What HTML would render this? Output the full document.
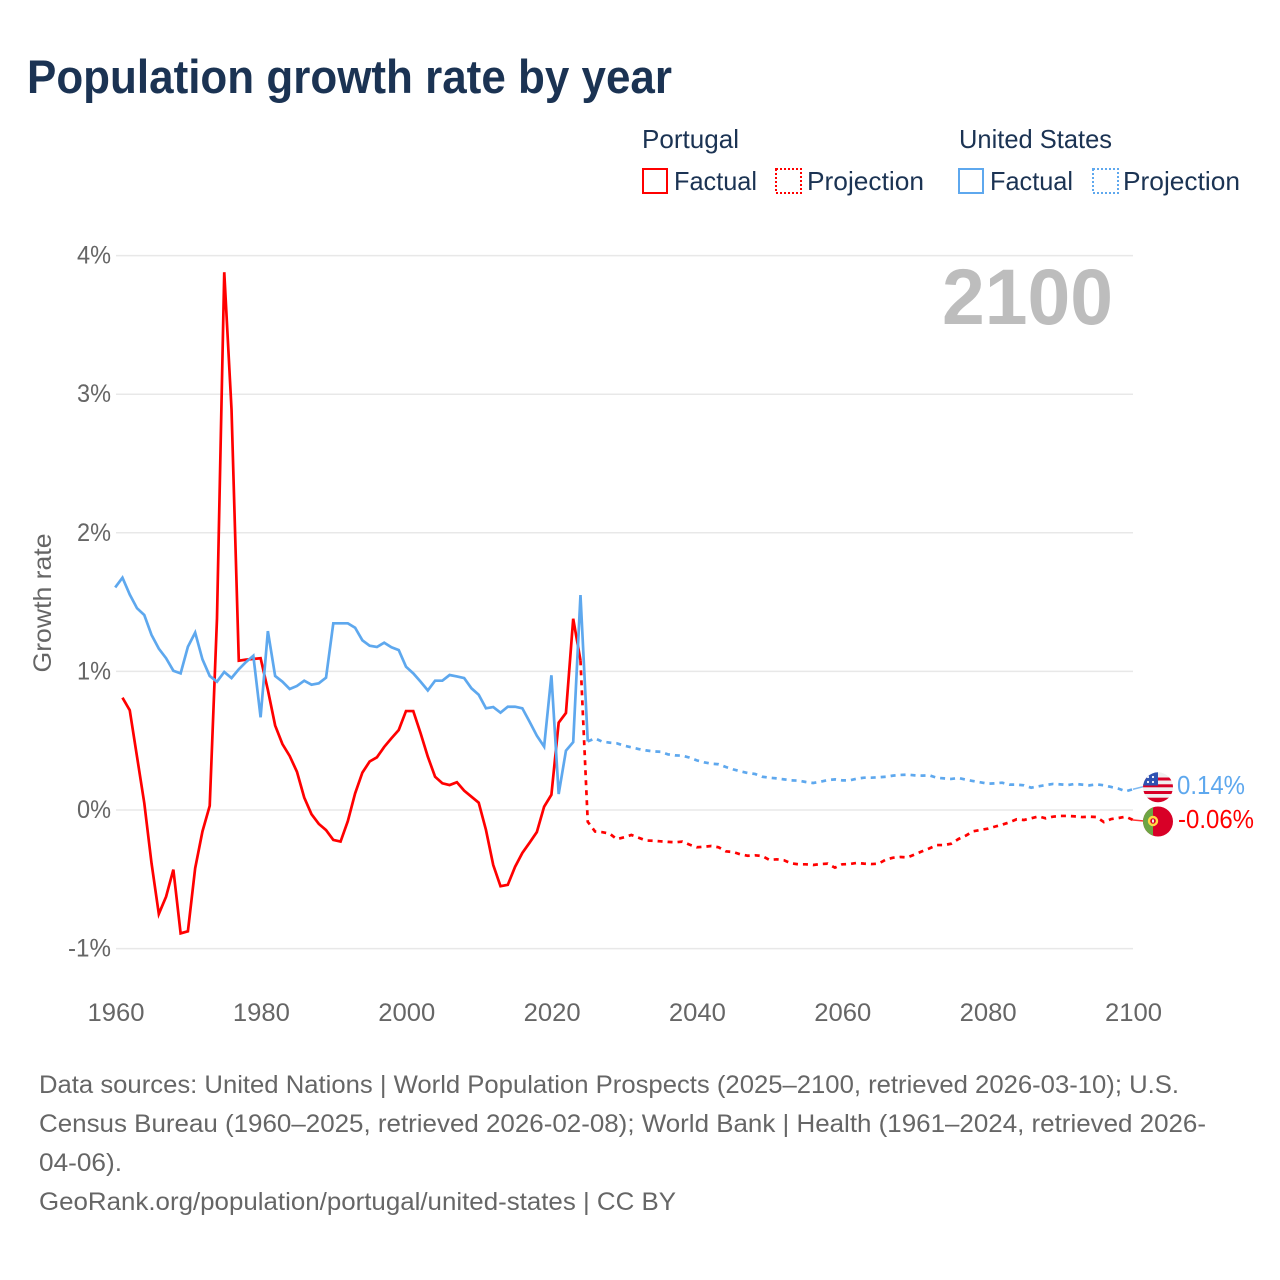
<!DOCTYPE html>
<html lang="en">
<head>
<meta charset="utf-8">
<title>Population growth rate by year</title>
<style>
html,body{margin:0;padding:0;background:#fff;}
#wrap{width:1280px;height:1280px;overflow:hidden;}
svg{display:block;}
text{font-family:"Liberation Sans",sans-serif;}
.legend-text{font-size:26px;fill:#1b3353;}
.foot{font-size:25px;fill:#666;}
.tick{font-size:25px;fill:#666;}
</style>
</head>
<body>
<div id="wrap">
<svg id="chart" width="1280" height="1280" viewBox="0 0 1280 1280" xmlns="http://www.w3.org/2000/svg">
  <text x="27" y="93" font-size="47" font-weight="700" fill="#1b3353" textLength="645" lengthAdjust="spacingAndGlyphs">Population growth rate by year</text>

  <g>
    <text class="legend-text" x="642" y="148" textLength="97" lengthAdjust="spacingAndGlyphs">Portugal</text>
    <rect x="643" y="169" width="24" height="24" fill="none" stroke="#ff0000" stroke-width="2"/>
    <text class="legend-text" x="674" y="190" textLength="83" lengthAdjust="spacingAndGlyphs">Factual</text>
    <rect x="776" y="169" width="25" height="24" fill="none" stroke="#ff0000" stroke-width="2" stroke-dasharray="2 2"/>
    <text class="legend-text" x="807" y="190" textLength="117" lengthAdjust="spacingAndGlyphs">Projection</text>

    <text class="legend-text" x="959" y="148" textLength="153" lengthAdjust="spacingAndGlyphs">United States</text>
    <rect x="959" y="169" width="24" height="24" fill="none" stroke="#5ea8ee" stroke-width="2"/>
    <text class="legend-text" x="990" y="190" textLength="83" lengthAdjust="spacingAndGlyphs">Factual</text>
    <rect x="1093" y="169" width="25" height="24" fill="none" stroke="#5ea8ee" stroke-width="2" stroke-dasharray="2 2"/>
    <text class="legend-text" x="1123" y="190" textLength="117" lengthAdjust="spacingAndGlyphs">Projection</text>
  </g>

  <g id="grid"></g>
  <g id="yticks"></g>
  <g id="xticks"></g>
  <text class="tick" transform="translate(51,603) rotate(-90)" text-anchor="middle" textLength="139" lengthAdjust="spacingAndGlyphs">Growth rate</text>

  <text x="942" y="324" font-size="79" font-weight="700" fill="#bdbdbd" textLength="171" lengthAdjust="spacingAndGlyphs">2100</text>

  <g id="series"></g>

  <defs>
    <clipPath id="usClip"><circle cx="1158" cy="787.3" r="15"/></clipPath>
    <clipPath id="ptClip"><circle cx="1158" cy="821.5" r="15"/></clipPath>
  </defs>

  <g clip-path="url(#usClip)">
    <rect x="1143" y="772" width="30" height="31" fill="#f0f0f0"/>
    <rect x="1143" y="777.5" width="30" height="3" fill="#d80027"/>
    <rect x="1143" y="784.3" width="30" height="3" fill="#d80027"/>
    <rect x="1143" y="791" width="30" height="3" fill="#d80027"/>
    <rect x="1143" y="797.7" width="30" height="5" fill="#d80027"/>
    <rect x="1143" y="772" width="15" height="13.5" fill="#2e52b2"/>
    <circle cx="1148" cy="782" r="1.1" fill="#fff"/>
    <circle cx="1153" cy="782" r="1.1" fill="#fff"/>
    <circle cx="1153" cy="777" r="1.1" fill="#fff"/>
    <circle cx="1148" cy="777" r="1.1" fill="#fff"/>
  </g>
  <g clip-path="url(#ptClip)">
    <rect x="1143" y="806" width="30" height="31" fill="#d80027"/>
    <rect x="1143" y="806" width="10" height="31" fill="#6da544"/>
    <circle cx="1153" cy="821" r="4" fill="#d80027" stroke="#ffda44" stroke-width="2.4"/>
    <rect x="1152" y="819.5" width="2" height="3" fill="#eee"/>
  </g>
  <text x="1177" y="794" font-size="26" fill="#5ea8ee" textLength="68" lengthAdjust="spacingAndGlyphs">0.14%</text>
  <text x="1178" y="828" font-size="26" fill="#ff0000" textLength="76" lengthAdjust="spacingAndGlyphs">-0.06%</text>

  <g>
    <text class="foot" x="39" y="1093" textLength="1140" lengthAdjust="spacingAndGlyphs">Data sources: United Nations | World Population Prospects (2025–2100, retrieved 2026-03-10); U.S.</text>
    <text class="foot" x="39" y="1132" textLength="1167" lengthAdjust="spacingAndGlyphs">Census Bureau (1960–2025, retrieved 2026-02-08); World Bank | Health (1961–2024, retrieved 2026-</text>
    <text class="foot" x="39" y="1171" textLength="83" lengthAdjust="spacingAndGlyphs">04-06).</text>
    <text class="foot" x="39" y="1210" textLength="637" lengthAdjust="spacingAndGlyphs">GeoRank.org/population/portugal/united-states | CC BY</text>
  </g>
</svg>
</div>
<script>
const yTickValues = [-1, 0, 1, 2, 3, 4];
const yTickLabels = ["-1%", "0%", "1%", "2%", "3%", "4%"];
const xTickYears = [1960, 1980, 2000, 2020, 2040, 2060, 2080, 2100];
const xTickLabels = ["1960", "1980", "2000", "2020", "2040", "2060", "2080", "2100"];

const portugalFactualStart = 1961;
const portugalFactual = [0.81,0.72,0.385,0.05,-0.385,-0.75,-0.625,-0.43,-0.89,-0.875,-0.42,-0.155,0.03,1.38,3.88,2.89,1.077,1.085,1.09,1.095,0.866,0.61,0.476,0.39,0.276,0.09,-0.03,-0.1,-0.145,-0.216,-0.228,-0.08,0.12,0.27,0.35,0.38,0.455,0.518,0.577,0.714,0.714,0.555,0.385,0.24,0.193,0.18,0.2,0.14,0.096,0.053,-0.144,-0.397,-0.55,-0.54,-0.41,-0.31,-0.236,-0.159,0.024,0.11,0.63,0.70,1.38,1.08];

const portugalProjectionStart = 2024;
const portugalProjection = [1.08,-0.085,-0.155,-0.16,-0.17,-0.21,-0.197,-0.18,-0.2,-0.22,-0.222,-0.226,-0.23,-0.233,-0.228,-0.25,-0.269,-0.265,-0.26,-0.269,-0.298,-0.303,-0.32,-0.33,-0.327,-0.332,-0.36,-0.356,-0.363,-0.385,-0.392,-0.392,-0.397,-0.39,-0.387,-0.416,-0.392,-0.39,-0.382,-0.387,-0.39,-0.387,-0.358,-0.344,-0.339,-0.342,-0.32,-0.298,-0.277,-0.253,-0.253,-0.243,-0.209,-0.185,-0.154,-0.144,-0.135,-0.12,-0.106,-0.089,-0.067,-0.072,-0.06,-0.046,-0.06,-0.048,-0.043,-0.043,-0.046,-0.051,-0.048,-0.051,-0.087,-0.065,-0.058,-0.048,-0.072];

const usFactualStart = 1960;
const usFactual = [1.606,1.676,1.555,1.456,1.407,1.263,1.164,1.095,1.005,0.986,1.178,1.28,1.087,0.967,0.926,0.996,0.952,1.015,1.068,1.113,0.669,1.291,0.967,0.926,0.873,0.895,0.933,0.904,0.914,0.955,1.347,1.347,1.347,1.315,1.224,1.185,1.176,1.207,1.174,1.154,1.034,0.986,0.926,0.863,0.933,0.933,0.974,0.964,0.952,0.878,0.832,0.734,0.743,0.702,0.745,0.745,0.734,0.637,0.536,0.457,0.972,0.115,0.428,0.49,1.551,0.495];

const usProjectionStart = 2025;
const usProjection = [0.495,0.517,0.493,0.486,0.481,0.464,0.452,0.44,0.43,0.423,0.42,0.402,0.394,0.392,0.378,0.358,0.344,0.334,0.33,0.31,0.293,0.279,0.267,0.26,0.24,0.233,0.228,0.221,0.214,0.212,0.202,0.195,0.204,0.216,0.221,0.214,0.214,0.226,0.233,0.233,0.236,0.24,0.248,0.253,0.255,0.25,0.248,0.25,0.233,0.228,0.224,0.231,0.219,0.209,0.2,0.19,0.192,0.197,0.183,0.183,0.178,0.161,0.171,0.18,0.188,0.185,0.18,0.188,0.183,0.178,0.185,0.178,0.166,0.154,0.135,0.15];

const SVGNS = "http://www.w3.org/2000/svg";
const xOf = function (year) { return 115.2 + (year - 1960) * 7.27; };
const yOf = function (v) { return 810 - v * 138.6; };
const xTickPos = function (year) { return 116 + (year - 1960) * 7.268; };

const pathFrom = function (startYear, values) {
  let d = "";
  for (let i = 0; i < values.length; i++) {
    d += (i === 0 ? "M" : "L") + xOf(startYear + i).toFixed(2) + " " + yOf(values[i]).toFixed(2);
  }
  return d;
};

const gridGroup = document.getElementById("grid");
const yTickGroup = document.getElementById("yticks");
const xTickGroup = document.getElementById("xticks");
const seriesGroup = document.getElementById("series");

yTickValues.forEach(function (v, i) {
  const line = document.createElementNS(SVGNS, "line");
  line.setAttribute("x1", 116);
  line.setAttribute("x2", 1133);
  line.setAttribute("y1", yOf(v));
  line.setAttribute("y2", yOf(v));
  line.setAttribute("stroke", "#e8e8e8");
  line.setAttribute("stroke-width", "1.5");
  
  
  gridGroup.appendChild(line);

  const label = document.createElementNS(SVGNS, "text");
  label.setAttribute("class", "tick");
  label.setAttribute("x", v < 0 ? 68 : 77);
  label.setAttribute("y", yOf(v) + 8);
  label.setAttribute("textLength", v < 0 ? 43 : 34);
  label.setAttribute("lengthAdjust", "spacingAndGlyphs");
  label.textContent = yTickLabels[i];
  
  
  yTickGroup.appendChild(label);
});

xTickYears.forEach(function (year, i) {
  const label = document.createElementNS(SVGNS, "text");
  label.setAttribute("class", "tick");
  label.setAttribute("x", xTickPos(year) - 28.5);
  label.setAttribute("y", 1021);
  label.setAttribute("textLength", 57);
  label.setAttribute("lengthAdjust", "spacingAndGlyphs");
  label.textContent = xTickLabels[i];
  
  
  xTickGroup.appendChild(label);
});

const addLine = function (startYear, values, color, dashed, name) {
  const p = document.createElementNS(SVGNS, "path");
  p.setAttribute("d", pathFrom(startYear, values));
  p.setAttribute("fill", "none");
  p.setAttribute("stroke", color);
  p.setAttribute("stroke-width", "2.7");
  p.setAttribute("stroke-linejoin", "miter");
  if (dashed) { p.setAttribute("stroke-dasharray", "5 5"); }
  
  
  seriesGroup.appendChild(p);
};

addLine(portugalFactualStart, portugalFactual, "#ff0000", false, "portugal-factual-line");
addLine(usFactualStart, usFactual, "#5ea8ee", false, "us-factual-line");
addLine(portugalProjectionStart, portugalProjection, "#ff0000", true, "portugal-projection-line");
addLine(usProjectionStart, usProjection, "#5ea8ee", true, "us-projection-line");

const addConnector = function (lastValue, flagY, color, name) {
  const c = document.createElementNS(SVGNS, "line");
  c.setAttribute("x1", xOf(2100));
  c.setAttribute("y1", yOf(lastValue));
  c.setAttribute("x2", 1144);
  c.setAttribute("y2", flagY);
  c.setAttribute("stroke", color);
  c.setAttribute("stroke-width", "1.5");
  c.setAttribute("opacity", "0.8");
  
  
  seriesGroup.appendChild(c);
};

addConnector(usProjection[usProjection.length - 1], 786.5, "#5ea8ee", "us-end-connector");
addConnector(portugalProjection[portugalProjection.length - 1], 821, "#ff0000", "portugal-end-connector");
</script>
</body>
</html>
